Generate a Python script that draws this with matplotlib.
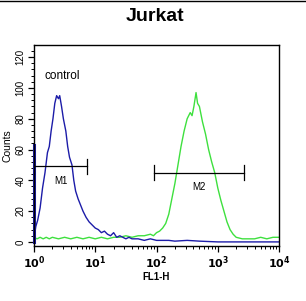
import numpy as np
import matplotlib
matplotlib.use("Agg")
import matplotlib.pyplot as plt
from matplotlib.ticker import MultipleLocator
from matplotlib.lines import Line2D

plt.rcParams['font.family'] = ['Liberation Sans', 'DejaVu Sans']

title = "Jurkat"
x_label = "FL1-H"
y_label = "Counts"

# control (blue) histogram: log10(FL1-H) positions and counts
blue_logx = [0.000, 0.004, 0.03, 0.06, 0.10, 0.14, 0.18, 0.22, 0.25, 0.28, 0.31, 0.34, 0.37,
             0.40, 0.42, 0.45, 0.48, 0.52, 0.55, 0.58, 0.62, 0.65, 0.68, 0.72, 0.76, 0.80,
             0.85, 0.90, 0.95, 1.00, 1.05, 1.10, 1.15, 1.20, 1.25, 1.30, 1.35, 1.40, 1.45,
             1.50, 1.55, 1.60, 1.70, 1.80, 1.90, 2.00, 2.10, 2.20, 2.30, 2.50, 2.70, 3.00,
             3.50, 4.00]
blue_counts = [63, 3, 10, 14, 22, 35, 45, 58, 62, 72, 80, 90, 95,
               93, 95, 88, 80, 72, 62, 55, 50, 40, 33, 28, 24, 20,
               16, 13, 11, 9, 8, 6, 7, 5, 4, 6, 3, 4, 3,
               2, 3, 2, 2, 1, 2, 1, 1, 1, 0.5, 1, 0.5, 0,
               0, 0]

# antibody (green) histogram
green_logx = [0.00, 0.05, 0.10, 0.15, 0.20, 0.25, 0.30, 0.40, 0.50, 0.60, 0.70, 0.80, 0.90,
              1.00, 1.10, 1.20, 1.30, 1.40, 1.50, 1.60, 1.70, 1.80, 1.90, 1.95, 2.00, 2.05,
              2.10, 2.15, 2.20, 2.25, 2.30, 2.35, 2.40, 2.45, 2.50, 2.55, 2.58, 2.61, 2.645,
              2.67, 2.70, 2.75, 2.80, 2.85, 2.90, 2.95, 3.00, 3.05, 3.10, 3.15, 3.20, 3.25,
              3.30, 3.40, 3.50, 3.60, 3.70, 3.80, 3.90, 4.00]
green_counts = [3, 2, 3, 2, 3, 2, 3, 2, 3, 2, 3, 2, 3,
                2, 3, 2, 3, 3, 4, 3, 4, 4, 5, 4, 6, 7,
                9, 12, 18, 28, 38, 50, 62, 72, 80, 84, 82, 88, 97,
                90, 88, 78, 70, 60, 52, 45, 35, 27, 20, 13, 8, 5,
                3, 2, 2, 2, 3, 2, 3, 3]

# gates
gate_names = ["M1", "M2"]
gate_lo = [1.0, 90.0]
gate_hi = [7.4, 2700.0]
gate_y = [49, 45]

y_ticks = [0, 20, 40, 60, 80, 100, 120]
x_ticks = [1, 10, 100, 1000, 10000]
x_tick_labels = [r"$\mathbf{10^0}$", r"$\mathbf{10^1}$", r"$\mathbf{10^2}$", r"$\mathbf{10^3}$", r"$\mathbf{10^4}$"]

fig = plt.figure(figsize=(3.06, 3.01), dpi=100)
ax = fig.add_axes([0.111, 0.183, 0.801, 0.667])

ax.plot(10 ** np.array(green_logx), green_counts, color="#3ee03e", lw=1.0)
ax.plot(10 ** np.array(blue_logx), blue_counts, color="#1c1ca8", lw=1.0)
ax.plot([1.0, 1.0], [0, blue_counts[0]], color="#1c1ca8", lw=2.2, clip_on=False)

for name, lo, hi, gy in zip(gate_names, gate_lo, gate_hi, gate_y):
    ax.plot([lo, hi], [gy, gy], color="black", lw=0.9)
    ax.plot([lo, lo], [gy - 5, gy + 5], color="black", lw=0.9)
    ax.plot([hi, hi], [gy - 5, gy + 5], color="black", lw=0.9)
    xm = 10 ** ((np.log10(lo) + np.log10(hi)) / 2)
    ax.text(xm, gy - 6, name, ha="center", va="top", fontsize=7)

ax.text(10 ** 0.17, 108, "control", fontsize=8.5, ha="left", va="center")

ax.set_xscale("log")
ax.set_xlim(1, 10000)
ax.set_ylim(-2.6, 127.8)
ax.set_xticks(x_ticks)
ax.set_xticklabels(x_tick_labels, fontsize=8)
ax.set_yticks(y_ticks)
ax.set_yticklabels([str(t) for t in y_ticks], fontsize=7, rotation=90, va="center")
ax.yaxis.set_minor_locator(MultipleLocator(4))
ax.tick_params(axis="both", which="major", direction="out", length=4, width=0.9, pad=2)
ax.tick_params(axis="both", which="minor", direction="out", length=2, width=0.7)
for s in ax.spines.values():
    s.set_linewidth(1.0)

ax.set_xlabel(x_label, fontsize=7, fontweight="bold", labelpad=1)
ax.set_ylabel(y_label, fontsize=7.5, labelpad=2)
fig.text(0.507, 0.945, title, ha="center", va="center", fontsize=14, fontweight="bold")
fig.add_artist(Line2D([0, 1], [0.998, 0.998], color="black", lw=1.0, transform=fig.transFigure))

fig.savefig("out.png", dpi=100)
